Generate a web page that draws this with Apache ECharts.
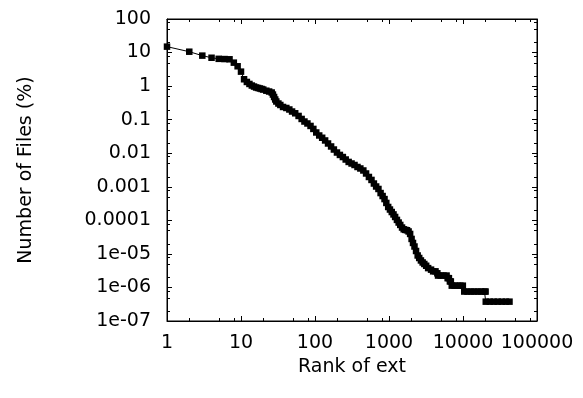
<!DOCTYPE html>
<html>
<head>
<meta charset="utf-8">
<title>Rank of ext</title>
<script src="https://cdn.jsdelivr.net/npm/echarts@6/dist/echarts.min.js"></script>
<style>
  html, body { margin: 0; padding: 0; background: #fff; }
  #chart { width: 583px; height: 398px; }
</style>
</head>
<body>
<div id="chart"></div>
<script>
// Share of files per extension, ordered by rank.
const ranks = [
  1, 2, 3, 4, 5, 6, 7, 8, 9, 10, 11, 12, 13, 14, 15, 16, 17, 18, 19, 20,
  22, 24, 26, 27, 28, 29, 30, 32, 34, 37, 41, 45, 49, 54, 60, 66, 72, 79, 87, 95,
  104, 114, 125, 137, 150, 165, 180, 198, 217, 238, 260, 285, 312, 342, 375, 410,
  450, 490, 535, 580, 625, 670, 720, 770, 820, 870, 920, 975, 1030, 1090, 1150,
  1210, 1280, 1350, 1420, 1500, 1580, 1660, 1750, 1840, 1930, 2020, 2110, 2210,
  2320, 2440, 2560, 2700, 2850, 3000, 3180, 3380, 3700, 3950, 4250, 4500, 4600,
  5000, 5450, 6000, 6200, 6450, 6650, 6850, 7050, 7700, 8400, 9200, 9950,
  10400, 11500, 12800, 14200, 15800, 17500, 19500, 20200,
  20300, 23000, 26000, 29500, 33500, 38000, 42500
];
const pct = [
  15, 10.6, 8.1, 7.0, 6.5, 6.4, 6.3, 5.0, 3.9, 2.7, 1.6, 1.33, 1.16, 1.04, 0.97, 0.91, 0.88, 0.85, 0.82, 0.79,
  0.73, 0.69, 0.645, 0.56, 0.474, 0.40, 0.348, 0.303, 0.274, 0.239, 0.223, 0.201, 0.175, 0.155, 0.129, 0.105, 0.088, 0.077, 0.065, 0.053,
  0.0415, 0.0338, 0.0289, 0.024, 0.0195, 0.0159, 0.0129, 0.0105, 0.0089, 0.0077, 0.0065, 0.0055, 0.00494, 0.00446, 0.00389, 0.00351,
  0.00306, 0.00249, 0.00196, 0.0016, 0.00125, 0.00102, 0.00086, 0.00065, 0.00053, 0.00043, 0.00033, 0.00025, 0.00021, 0.000177, 0.00015,
  0.000126, 0.000103, 0.000086, 0.000073, 0.000061, 0.000054, 0.000052, 0.0000506, 0.0000466, 0.0000393, 0.0000279, 0.0000212, 0.0000166,
  0.0000122, 0.00000897, 0.00000755, 0.00000637, 0.00000555, 0.0000050, 0.00000443, 0.00000377, 0.00000339, 0.00000302, 0.00000302, 0.00000264, 0.00000226,
  0.00000226, 0.00000226, 0.00000226, 0.00000189, 0.00000189, 0.00000151, 0.00000151, 0.00000113, 0.00000113, 0.00000113, 0.00000113, 0.00000113,
  7.54e-7, 7.54e-7, 7.54e-7, 7.54e-7, 7.54e-7, 7.54e-7, 7.54e-7, 7.54e-7,
  3.77e-7, 3.77e-7, 3.77e-7, 3.77e-7, 3.77e-7, 3.77e-7, 3.77e-7
];

const xTickLabels = ['1', '10', '100', '1000', '10000', '100000'];
const yTickLabels = ['1e-07', '1e-06', '1e-05', '0.0001', '0.001', '0.01', '0.1', '1', '10', '100'];
const xRange = [1, 100000];
const yRange = [1e-7, 100];
const minorSteps = [2, 5, 8];

const points = ranks.map((r, i) => [r, pct[i]]);

function decadeMinors(lo, hi) {
  const out = [];
  const e0 = Math.round(Math.log10(lo));
  const e1 = Math.round(Math.log10(hi));
  for (let e = e0; e < e1; e++) {
    minorSteps.forEach(m => out.push(m * Math.pow(10, e)));
  }
  return out;
}
const xMinor = decadeMinors(xRange[0], xRange[1]);
const yMinor = decadeMinors(yRange[0], yRange[1]);

function labelFor(list, lo) {
  const base = Math.round(Math.log10(lo));
  return v => {
    const t = list[Math.round(Math.log10(v)) - base];
    return t === undefined ? '' : t;
  };
}

const FONT = 'DejaVu Sans';
const FS = 19;
const black = '#000';

// Small inward ticks at 2, 5 and 8 of every decade, on both sides of the frame.
function minorTickSeries(values, horizontal) {
  return {
    type: 'custom',
    silent: true,
    clip: false,
    z: 5,
    xAxisIndex: 0,
    yAxisIndex: 0,
    data: values.map(v => horizontal ? [v, yRange[0]] : [xRange[0], v]),
    renderItem(params, api) {
      const cs = params.coordSys;
      const p = api.coord([api.value(0), api.value(1)]);
      const len = 3;
      const style = { stroke: black, lineWidth: 1 };
      if (horizontal) {
        const x = Math.round(p[0]) + 0.5;
        const yb = cs.y + cs.height, yt = cs.y;
        return { type: 'group', children: [
          { type: 'line', shape: { x1: x, y1: yb, x2: x, y2: yb - len }, style },
          { type: 'line', shape: { x1: x, y1: yt, x2: x, y2: yt + len }, style }
        ]};
      }
      const y = Math.round(p[1]) + 0.5;
      const xl = cs.x, xr = cs.x + cs.width;
      return { type: 'group', children: [
        { type: 'line', shape: { x1: xl, y1: y, x2: xl + len, y2: y }, style },
        { type: 'line', shape: { x1: xr, y1: y, x2: xr - len, y2: y }, style }
      ]};
    }
  };
}

function logAxis(range, extra) {
  return Object.assign({
    type: 'log',
    logBase: 10,
    min: range[0],
    max: range[1],
    splitLine: { show: false },
    axisLine: { show: true, lineStyle: { color: black, width: 1 } },
    axisTick: { show: true, inside: true, length: 5, lineStyle: { color: black, width: 1 } },
    minorTick: { show: false }
  }, extra);
}

const chart = echarts.init(document.getElementById('chart'), null, { renderer: 'canvas' });
chart.setOption({
  animation: false,
  backgroundColor: '#fff',
  textStyle: { fontFamily: FONT, color: black },
  grid: {
    left: 167, right: 46, top: 19, bottom: 77,
    containLabel: false,
    outerBoundsMode: 'none',
    show: true, borderColor: black, borderWidth: 1, backgroundColor: 'transparent'
  },
  xAxis: [
    logAxis(xRange, {
      position: 'bottom',
      splitNumber: 5,
      name: 'Rank of ext',
      nameLocation: 'middle',
      nameGap: 31,
      nameTextStyle: { fontFamily: FONT, fontSize: FS, color: black },
      axisLabel: {
        show: true, margin: 13, fontFamily: FONT, fontSize: FS, color: black,
        showMinLabel: true, showMaxLabel: true,
        formatter: labelFor(xTickLabels, xRange[0])
      }
    }),
    logAxis(xRange, { position: 'top', splitNumber: 5, axisLabel: { show: false } })
  ],
  yAxis: [
    logAxis(yRange, {
      position: 'left',
      splitNumber: 9,
      name: 'Number of Files (%)',
      nameLocation: 'middle',
      nameRotate: 90,
      nameGap: 131,
      nameTextStyle: { fontFamily: FONT, fontSize: FS, color: black },
      axisLabel: {
        show: true, margin: 16, fontFamily: FONT, fontSize: FS, color: black,
        showMinLabel: true, showMaxLabel: true,
        formatter: labelFor(yTickLabels, yRange[0])
      }
    }),
    logAxis(yRange, { position: 'right', splitNumber: 9, axisLabel: { show: false } })
  ],
  series: [
    {
      type: 'line',
      data: points,
      showSymbol: false,
      lineStyle: { color: black, width: 1, opacity: 1 },
      z: 2,
      silent: true
    },
    {
      type: 'scatter',
      data: points,
      symbol: 'rect',
      symbolSize: 6.5,
      itemStyle: { color: black, borderWidth: 0, opacity: 1 },
      emphasis: { disabled: true },
      z: 3,
      silent: true
    },
    minorTickSeries(xMinor, true),
    minorTickSeries(yMinor, false)
  ]
});
</script>
</body>
</html>
